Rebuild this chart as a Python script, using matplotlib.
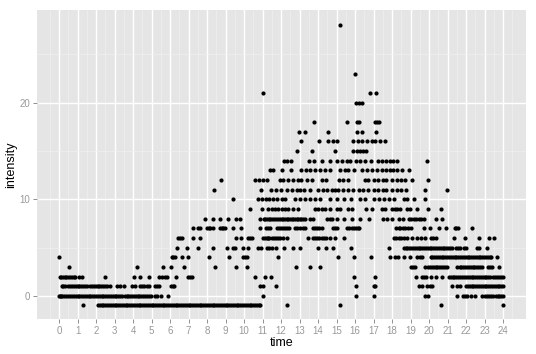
# Recreate ggplot style scatter: intensity by time of day
import matplotlib
matplotlib.use('Agg')
import matplotlib.pyplot as plt

plt.rcParams['font.family'] = ['Liberation Sans', 'DejaVu Sans']

# times, one list per intensity level
t_neg1 = [1.28, 2.13, 2.2, 2.3, 2.4, 2.5, 2.6, 2.7, 2.8, 2.9, 3.0, 3.1, 3.2, 3.3, 3.4, 3.5, 3.6, 3.7, 3.8, 3.9,
          4.0, 4.1, 4.2, 4.3, 4.4, 4.5, 4.6, 4.7, 4.8, 4.9, 5.0, 5.1, 5.2, 5.3, 5.4, 5.5, 5.6, 5.7, 5.8, 5.9,
          6.0, 6.1, 6.2, 6.3, 6.4, 6.5, 6.6, 6.7, 6.8, 6.9, 7.0, 7.1, 7.2, 7.3, 7.4, 7.5, 7.6, 7.7, 7.8, 7.9,
          8.0, 8.1, 8.2, 8.3, 8.4, 8.5, 8.6, 8.7, 8.8, 8.9, 9.0, 9.1, 9.2, 9.3, 9.4, 9.5, 9.6, 9.7, 9.8, 9.9,
          10.0, 10.1, 10.2, 10.3, 10.4, 10.5, 10.6, 10.7, 10.8, 10.87, 12.32, 15.18, 20.64, 24.0]
t_0 = [0.0, 0.05, 0.1, 0.17, 0.25, 0.4, 0.5, 0.6, 0.7, 0.8, 0.9, 1.0, 1.1, 1.2, 1.3, 1.4, 1.5, 1.6, 1.7, 1.8,
       1.9, 2.0, 2.1, 2.2, 2.3, 2.4, 2.5, 2.6, 2.7, 2.8, 2.9, 3.0, 3.1, 3.2, 3.3, 3.4, 3.55, 3.65, 3.75, 3.85,
       3.95, 4.05, 4.15, 4.25, 4.35, 4.45, 4.55, 4.65, 4.75, 4.85, 4.95, 5.2, 5.3, 5.5, 5.9, 11.0, 16.03, 17.04,
       19.8, 19.93, 21.52, 21.85, 21.95, 22.07, 22.25, 22.47, 22.88, 23.0, 23.12, 23.25, 23.35, 23.48, 23.6,
       23.7, 23.8, 23.9, 24.0]
t_1 = [0.14, 0.22, 0.3, 0.5, 0.6, 0.7, 0.8, 0.9, 1.0, 1.1, 1.2, 1.3, 1.4, 1.5, 1.68, 1.78, 1.88, 1.98, 2.08, 2.18,
       2.28, 2.38, 2.48, 2.62, 2.76, 3.15, 3.3, 3.51, 3.96, 4.11, 4.38, 4.5, 4.62, 4.73, 4.86, 5.19, 5.3, 5.42,
       6.04, 6.14, 6.22, 10.86, 11.04, 11.72, 16.03, 17.0, 17.08, 19.48, 19.63, 19.9, 20.03, 20.17, 21.22, 21.49,
       21.67, 21.98, 22.1, 22.2, 22.3, 22.4, 22.5, 22.6, 22.7, 22.8, 22.9, 23.0, 23.1, 23.2, 23.3, 23.4, 23.5,
       23.6, 23.7, 23.8, 23.9, 24.0]
t_2 = [0.05, 0.12, 0.2, 0.3, 0.4, 0.5, 0.6, 0.7, 0.8, 0.86, 1.1, 1.23, 2.5, 4.07, 4.38, 4.86, 5.42, 5.55, 5.73, 5.86,
       6.32, 6.99, 7.08, 7.17, 10.58, 11.14, 11.45, 15.97, 17.06, 19.3, 19.63, 19.75, 19.86, 20.08, 20.35, 20.71,
       21.07, 21.17, 21.27, 21.37, 21.47, 21.57, 21.67, 21.77, 21.87, 22.0, 22.1, 22.2, 22.3, 22.4, 22.5, 22.6,
       22.7, 22.8, 22.9, 23.0, 23.1, 23.2, 23.3, 23.45, 23.55, 23.65, 23.8, 23.9, 24.0]
t_3 = [0.56, 4.2, 5.62, 6.05, 6.76, 8.43, 9.59, 10.14, 12.79, 13.59, 14.11, 19.05, 19.15, 19.26, 19.8, 19.95, 20.05,
       20.15, 20.25, 20.35, 20.45, 20.55, 20.65, 20.75, 20.85, 20.95, 21.52, 21.65, 21.75, 21.85, 21.95, 22.05,
       22.15, 22.25, 22.35, 22.45, 22.55, 22.65, 22.75, 22.85, 23.19, 23.3, 23.42, 23.78]
t_4 = [0.0, 6.09, 6.18, 6.27, 6.63, 6.99, 8.11, 9.17, 9.96, 10.05, 10.14, 11.85, 15.1, 15.97, 16.86, 17.9, 18.18, 18.3,
       18.63, 18.96, 19.35, 19.5, 19.63, 20.08, 20.18, 20.28, 20.38, 20.48, 20.58, 20.68, 20.78, 20.88, 20.98,
       21.08, 21.18, 21.28, 21.38, 21.48, 21.58, 21.68, 21.78, 21.88, 21.98, 22.08, 22.18, 22.28, 22.38, 22.48,
       22.58, 22.68, 22.78, 22.88, 22.98, 23.08, 23.18, 23.28, 23.33, 23.68]
t_5 = [6.36, 6.94, 7.53, 8.3, 9.06, 9.39, 9.51, 9.93, 10.2, 10.76, 10.89, 11.22, 11.35, 11.49, 11.72, 12.18, 12.66,
       13.03, 14.02, 14.44, 14.83, 15.77, 17.82, 18.63, 18.73, 18.83, 18.93, 19.03, 19.13, 19.23, 19.33, 19.43,
       19.53, 19.63, 19.73, 19.83, 19.93, 20.03, 20.13, 20.23, 20.33, 20.43, 20.53, 20.63, 20.73, 20.83, 20.93,
       21.03, 21.13, 21.23, 21.43, 21.55, 21.67, 21.89, 22.0, 22.57, 22.7, 23.12]
t_6 = [6.45, 6.55, 6.63, 7.22, 7.62, 9.57, 9.84, 10.23, 10.33, 10.41, 11.04, 11.13, 11.22, 11.3, 11.37, 11.49, 11.6,
       11.72, 11.83, 11.94, 12.12, 12.3, 13.48, 13.75, 13.85, 13.93, 14.06, 14.2, 14.32, 14.44, 14.65, 14.92, 15.41,
       18.09, 18.2, 18.36, 18.5, 18.63, 18.81, 19.08, 19.35, 19.57, 19.8, 20.08, 20.2, 20.35, 21.34, 21.94, 22.72,
       23.24, 23.51]
t_7 = [7.26, 7.53, 7.62, 7.98, 8.08, 8.16, 8.3, 8.7, 8.8, 8.88, 8.97, 9.39, 9.82, 10.86, 11.18, 11.3, 11.43, 11.76,
       11.88, 11.98, 12.1, 12.2, 12.33, 12.45, 12.75, 12.88, 13.03, 13.18, 13.3, 13.75, 13.85, 13.93, 14.05, 14.2,
       14.8, 14.9, 15.0, 15.56, 15.7, 15.83, 15.95, 16.06, 16.15, 16.24, 18.23, 18.35, 18.45, 18.6, 18.72, 18.85,
       19.0, 19.72, 20.04, 20.53, 20.9, 21.38, 21.47, 21.56, 22.34]
t_8 = [7.89, 8.34, 8.7, 9.15, 9.57, 9.78, 10.86, 11.07, 11.15, 11.25, 11.34, 11.43, 11.52, 11.61, 11.72, 11.85, 11.94,
       12.03, 12.12, 12.2, 12.3, 12.39, 12.48, 12.57, 12.66, 12.75, 12.84, 12.93, 13.02, 13.1, 13.2, 13.3, 13.57,
       13.75, 14.5, 14.62, 14.75, 15.0, 15.4, 15.83, 16.28, 16.73, 17.5, 17.75, 18.0, 18.36, 18.6, 18.9, 19.03,
       19.17, 19.3, 19.44, 19.58, 19.72, 20.4, 20.7]
t_9 = [10.3, 10.95, 11.3, 11.5, 11.67, 11.85, 12.03, 12.2, 12.39, 12.66, 12.93, 13.84, 14.02, 14.2, 14.38, 14.65,
       15.01, 15.2, 15.6, 15.83, 16.6, 16.91, 17.46, 17.64, 18.0, 18.14, 18.27, 18.45, 18.81, 18.96, 19.35, 19.95,
       20.66]
t_10 = [9.4, 10.76, 10.95, 11.18, 11.36, 11.58, 11.76, 12.03, 12.2, 12.75, 13.03, 13.3, 13.57, 13.84, 14.1, 14.65,
        15.05, 15.38, 15.77, 16.28, 16.55, 17.0, 17.27, 17.55, 17.82, 18.09, 18.63, 18.81, 19.17, 19.77]
t_11 = [8.36, 10.9, 11.44, 11.73, 11.98, 12.34, 12.57, 12.85, 13.0, 13.25, 13.55, 14.02, 14.25, 14.47, 14.74, 14.92,
        15.1, 15.37, 15.64, 15.91, 16.23, 16.45, 16.72, 17.03, 17.26, 17.5, 17.7, 18.0, 18.25, 18.47, 18.75, 19.78,
        20.97]
t_12 = [8.74, 10.6, 10.8, 11.04, 11.23, 11.95, 12.13, 12.4, 12.67, 12.94, 13.1, 13.39, 13.66, 14.2, 14.43, 15.15,
        15.37, 15.64, 16.54, 16.72, 17.0, 17.26, 17.5, 17.7, 18.0, 18.25, 18.5, 18.7, 19.1, 19.96]
t_13 = [11.4, 11.55, 12.05, 12.54, 13.1, 13.35, 13.57, 13.84, 14.1, 14.4, 14.65, 15.2, 15.46, 15.64, 15.95, 16.4,
        16.64, 16.9, 17.17, 17.45, 17.68, 17.9, 18.07, 18.25, 18.52, 18.9]
t_14 = [12.16, 12.34, 12.52, 13.53, 13.78, 14.2, 14.63, 15.05, 15.28, 15.55, 15.73, 16.05, 16.27, 16.54, 16.85,
        17.24, 17.45, 17.68, 17.9, 18.04, 18.29, 19.9]
t_15 = [12.85, 13.7, 14.92, 15.9, 16.09, 16.27, 16.45, 16.6]
t_16 = [13.06, 14.07, 14.54, 14.8, 15.0, 15.87, 16.18, 16.36, 16.67, 16.9, 17.08, 17.35, 17.6]
t_17 = [12.95, 13.3, 14.54, 16.1, 16.4, 17.13]
t_18 = [13.78, 15.55, 16.1, 16.2, 17.08, 17.2, 17.3]
t_20 = [16.05, 16.2, 16.4]
t_21 = [11.04, 16.8, 17.13]
t_23 = [16.02]
t_28 = [15.17]

levels = [-1, 0, 1, 2, 3, 4, 5, 6, 7, 8, 9, 10, 11, 12, 13, 14, 15, 16, 17, 18, 20, 21, 23, 28]
times = [t_neg1, t_0, t_1, t_2, t_3, t_4, t_5, t_6, t_7, t_8, t_9, t_10, t_11, t_12, t_13, t_14, t_15,
         t_16, t_17, t_18, t_20, t_21, t_23, t_28]

x_ticks = list(range(25))
y_ticks = [0, 10, 20]
x_minor = [i + 0.5 for i in range(-1, 25)]
y_minor = [5, 15, 25]

W, H = 536, 354
fig = plt.figure(figsize=(W / 100, H / 100), dpi=100)
ax = fig.add_axes([37 / W, 1 - 319 / H, (526 - 37) / W, (319 - 10) / H])
ax.set_facecolor('#E5E5E5')
for s in ax.spines.values():
    s.set_visible(False)

ax.set_xlim(-1.19, 25.24)
ax.set_ylim(-2.4, 29.6)

ax.set_xticks(x_ticks)
ax.set_yticks(y_ticks)
ax.set_xticks(x_minor, minor=True)
ax.set_yticks(y_minor, minor=True)
ax.set_axisbelow(True)
ax.grid(which='major', color='white', linewidth=1.0)
ax.grid(which='minor', color='#F0F0F0', linewidth=0.5)
ax.tick_params(which='major', length=3, width=0.6, color='#7F7F7F', labelcolor='#999999', labelsize=7, pad=2)
ax.tick_params(which='minor', length=0)

for level, ts in zip(levels, times):
    ax.scatter(ts, [level] * len(ts), s=9, color='black', linewidths=0, zorder=3)

ax.set_xlabel('time', fontsize=9)
ax.set_ylabel('intensity', fontsize=9)
ax.xaxis.set_label_coords(0.5, (319 - 337) / 309)
ax.yaxis.set_label_coords((17 - 37) / 489, 0.5)

fig.savefig('out.png', dpi=100)
